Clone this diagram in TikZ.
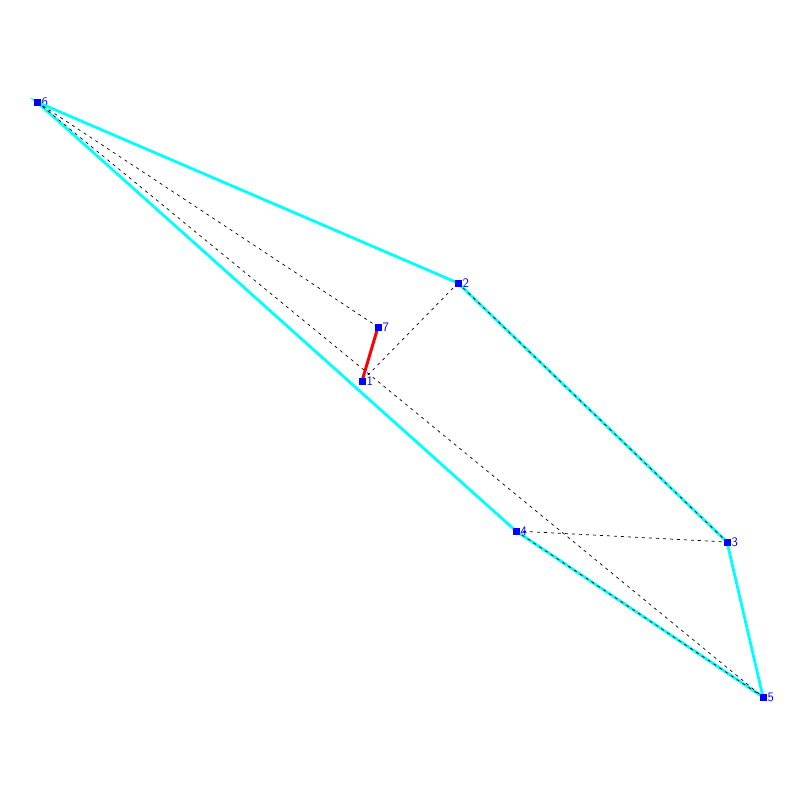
\documentclass[tikz,border=0pt]{standalone}
\usepackage{xcolor}
\usepackage{tikz}
\definecolor{hullcyan}{RGB}{0,255,255}
\definecolor{ptblue}{RGB}{0,0,255}
\tikzset{
  vtx/.style={fill=ptblue, inner sep=0pt, minimum size=7pt, draw=none,
    label={[text=ptblue, font=\sffamily\fontsize{13}{13}\selectfont, inner sep=0.8pt]right:#1}},
  hull/.style={hullcyan, line width=2.8pt},
  diag/.style={black, line width=0.7pt, dash pattern=on 3pt off 4pt},
  cut/.style={red, line width=3pt}
}
\begin{document}
\begin{tikzpicture}[x=1pt,y=-1pt]
\useasboundingbox (0,0) rectangle (800,800);
% points
\node[vtx=1] (p1) at (362,381) {};
\node[vtx=2] (p2) at (458,283) {};
\node[vtx=3] (p3) at (727,542) {};
\node[vtx=4] (p4) at (516,531) {};
\node[vtx=5] (p5) at (763,697) {};
\node[vtx=6] (p6) at (37,102) {};
\node[vtx=7] (p7) at (378,327) {};
% hull and diagonals
\draw[hull] (p6.center) -- (p2.center) -- (p3.center) -- (p5.center) -- (p4.center) -- cycle;
\draw[diag] (p6.center) -- (p7.center);
\draw[diag] (p6.center) -- (p5.center);
\draw[diag] (p2.center) -- (p1.center);
\draw[diag] (p2.center) -- (p3.center);
\draw[diag] (p4.center) -- (p3.center);
\draw[diag] (p4.center) -- (p5.center);
\draw[cut] (p1.center) -- (p7.center);
% redraw squares on top
\foreach \n in {1,...,7} \fill[ptblue] ([xshift=-3.5pt,yshift=3.5pt]p\n.center) rectangle ([xshift=3.5pt,yshift=-3.5pt]p\n.center);
\end{tikzpicture}
\end{document}
